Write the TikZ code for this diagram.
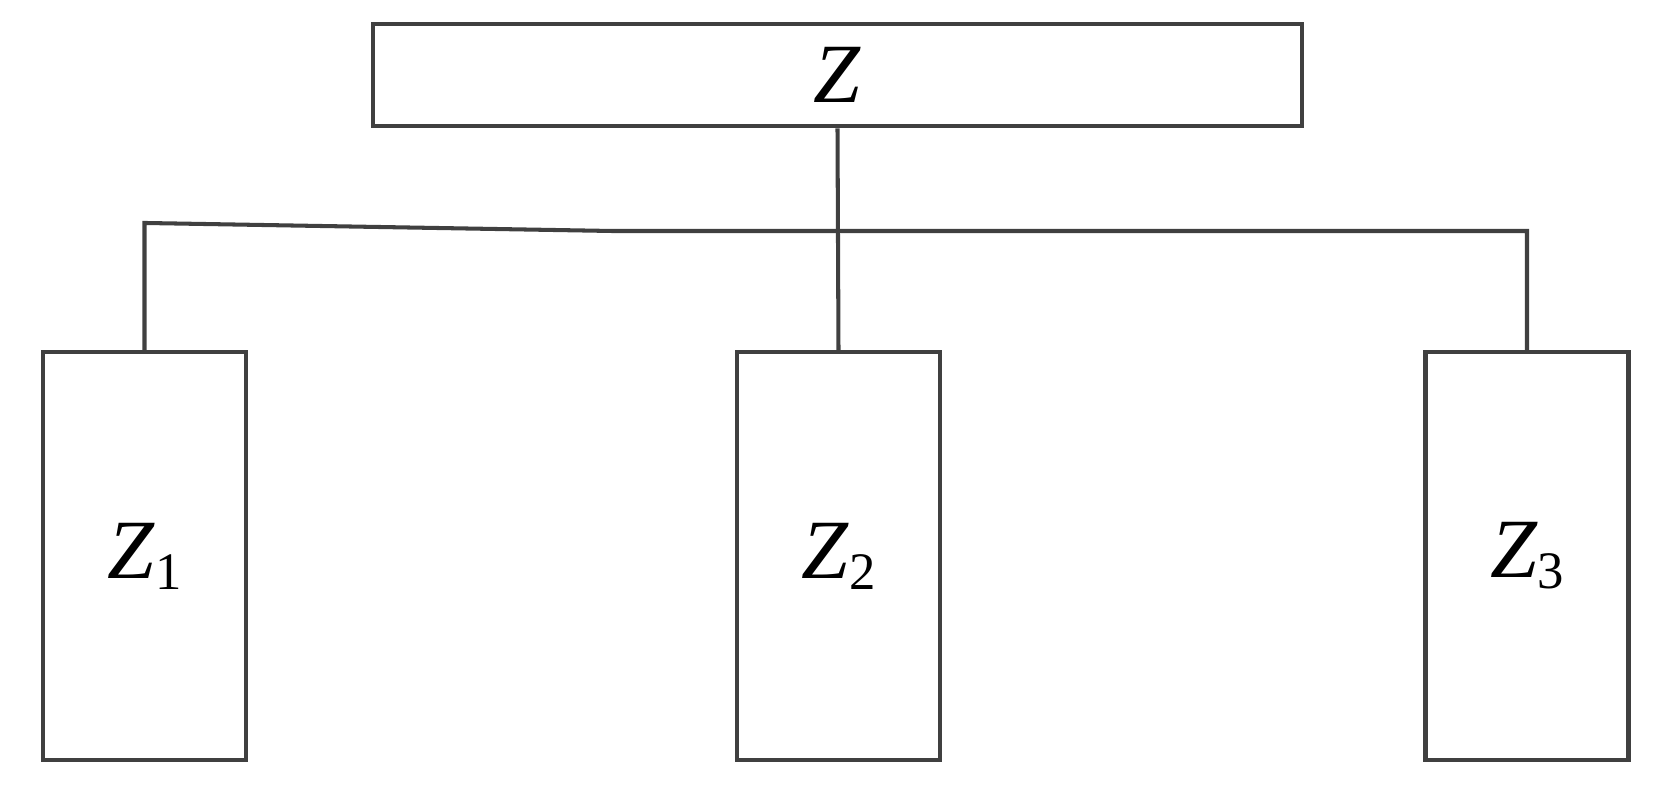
\documentclass[tikz,border=0pt]{standalone}
\usepackage{fontspec}
\setmainfont{Liberation Serif}
\usetikzlibrary{positioning,calc}
\newcommand{\zsub}[1]{\textit{Z}\raisebox{-3.1pt}{\fontsize{15}{17}\selectfont #1}}

\begin{document}
\begin{tikzpicture}[
    every node/.style={font=\fontsize{24}{28}\selectfont},
    % boxes and lines share one dark gray
    block/.style={rectangle, draw=black!75, line width=1.15pt, inner sep=0pt},
    link/.style={draw=black!75, line width=1.15pt}
]
\useasboundingbox (0,0) rectangle (16.7,7.91);

% Top block
\node[block, minimum width=9.29cm, minimum height=1.025cm] (top) at (8.375,7.16) {\textit{Z}};

% Lower blocks
\foreach \n/\x in {1/1.445, 2/8.385, 3/15.27} {
    \node[block, minimum width=2.03cm, minimum height=4.08cm] (z\n) at (\x,2.35) {\zsub{\n}};
}

% Connectors
\coordinate (bend) at (6.12,5.60);
\draw[link] (top.south) -- (z2.north);
\draw[link] (z1.north) -- ++(0,1.27) -- (bend) -- (bend -| z3.north) -- (z3.north);

\end{tikzpicture}
\end{document}
